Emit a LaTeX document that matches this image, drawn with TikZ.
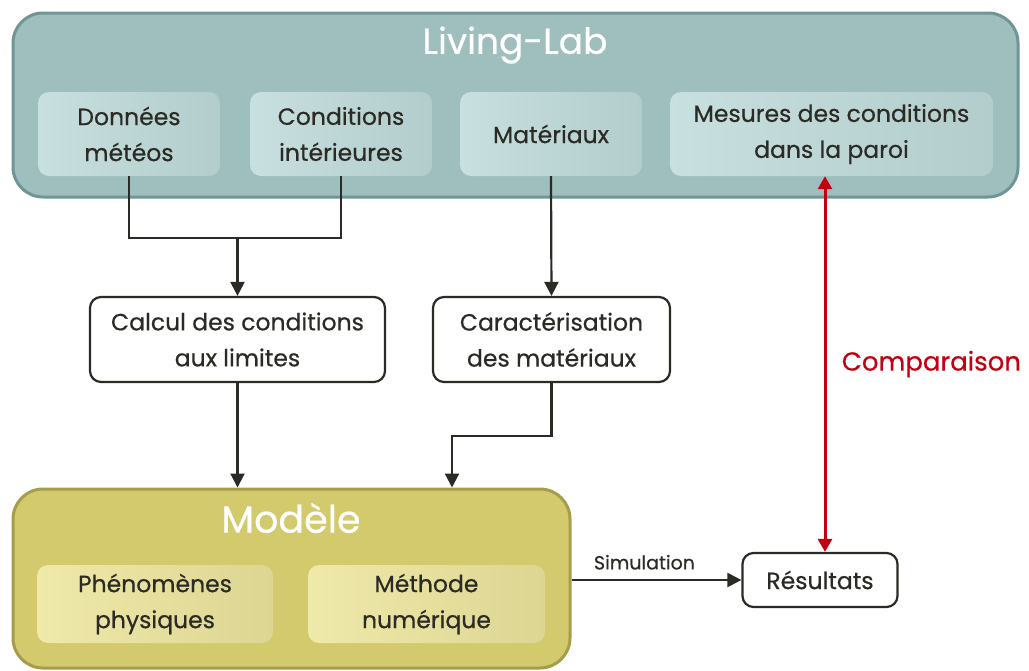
\documentclass[tikz,border=0pt]{standalone}
\usepackage{fontspec}
\setmainfont{Poppins}[FakeBold=0.5]
\usetikzlibrary{arrows.meta}
\definecolor{labfill}{HTML}{9EBFBD}
\definecolor{labdraw}{HTML}{6F9694}
\definecolor{labinL}{HTML}{C8E0DF}
\definecolor{labinR}{HTML}{B2CDCC}
\definecolor{modfill}{HTML}{D2CA6C}
\definecolor{moddraw}{HTML}{A59D4C}
\definecolor{modinL}{HTML}{EFE9AA}
\definecolor{modinR}{HTML}{DDD592}
\definecolor{ink}{HTML}{2B2A24}
\definecolor{cred}{HTML}{C20012}
\tikzset{
  bodytext/.style={font=\fontsize{23.5}{36}\selectfont, text=ink, align=center},
  outerlab/.style={draw=labdraw, line width=3pt, fill=labfill, rounded corners=30pt},
  outermod/.style={draw=moddraw, line width=3pt, fill=modfill, rounded corners=30pt},
  innerlab/.style={bodytext, left color=labinL, right color=labinR, rounded corners=11pt, inner sep=0pt},
  innermod/.style={bodytext, left color=modinL, right color=modinR, rounded corners=11pt, inner sep=0pt},
  plainbox/.style={bodytext, draw=ink, line width=2.2pt, fill=white, rounded corners=11pt, inner sep=0pt},
  titletext/.style={font=\fontsize{36}{40}\selectfont, text=white},
  arr/.style={draw=ink, line width=2.2pt, -{Triangle[length=14pt, width=14pt]}},
  conn/.style={draw=ink, line width=2.2pt},
  redarr/.style={draw=cred, line width=3pt, {Triangle[length=13pt, width=14pt]}-{Triangle[length=13pt, width=14pt]}},
}
\begin{document}
\begin{tikzpicture}[x=1pt,y=-1pt]
\useasboundingbox (0,0) rectangle (1029,670);
% Living-Lab
\node[outerlab, minimum width=1005pt, minimum height=184pt] (lab) at (515.5,105) {};
\node[titletext] (labtitle) at (515,45) {Living-Lab};
\node[innerlab, minimum width=182pt, minimum height=84pt] (don) at (129,134) {Données\\météos};
\node[innerlab, minimum width=182pt, minimum height=84pt] (cond) at (341,134) {Conditions\\intérieures};
\node[innerlab, minimum width=182pt, minimum height=84pt] (mat) at (551,134) {Matériaux};
\node[innerlab, minimum width=323pt, minimum height=84pt] (mes) at (831.5,134) {\raisebox{-3pt}{\parbox{300pt}{\centering Mesures des conditions\\dans la paroi}}};
% middle
\node[plainbox, minimum width=295pt, minimum height=85pt] (calc) at (237.5,339.5) {Calcul des conditions\\aux limites};
\node[plainbox, minimum width=237pt, minimum height=85pt] (carac) at (551.5,339.5) {Caractérisation\\des matériaux};
% Modèle
\node[outermod, minimum width=557pt, minimum height=179pt] (model) at (291.5,578.5) {};
\node[titletext, font=\fontsize{38}{40}\selectfont] (modtitle) at (291,518) {Modèle};
\node[innermod, minimum width=236pt, minimum height=78pt] (phen) at (155,604) {Phénomènes\\physiques};
\node[innermod, minimum width=237pt, minimum height=78pt] (meth) at (426.5,604) {Méthode\\numérique};
% results
\node[plainbox, minimum width=155pt, minimum height=54pt] (res) at (820,580) {Résultats};
% connectors
\coordinate (j) at (237.5,238);
\draw[conn] (don.south) |- (j);
\draw[conn] (cond.south) |- (j);
\draw[arr] (j) -- (calc.north);
\draw[arr] (mat.south) -- (carac.north);
\draw[arr] (calc.south) -- (calc.south |- model.north);
\draw[arr] (carac.south) -- ++(0,53) -| ([xshift=160.5pt]model.north);
\draw[arr] (model.east |- res.west) -- node[above=6pt, xshift=-12pt, font=\fontsize{19}{22}\selectfont, text=ink] (simlab) {Simulation} (res.west);
\draw[redarr] ([xshift=5pt]res.north |- mes.south) -- node[right=12pt, font=\fontsize{26}{30}\selectfont, text=cred] (cmp) {Comparaison} ([xshift=5pt]res.north);
\end{tikzpicture}
\end{document}
